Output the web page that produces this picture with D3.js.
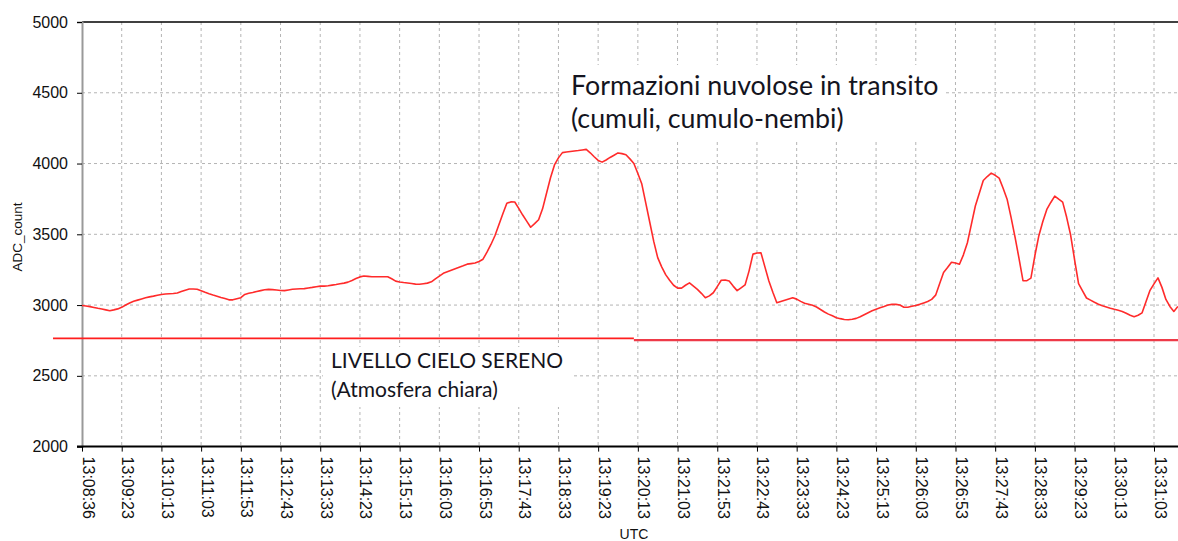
<!DOCTYPE html>
<html>
<head>
<meta charset="utf-8">
<script src="https://cdn.jsdelivr.net/npm/d3@7"></script>
<style>
  html, body { margin: 0; padding: 0; background: #fff; }
  svg { display: block; }
</style>
</head>
<body>
<svg id="chart" width="1178" height="541"></svg>
<script>
// Time labels shown under the x axis (one every 10 samples)
const tickLabels = [
  "13:08:36", "13:09:23", "13:10:13", "13:11:03", "13:11:53", "13:12:43", "13:13:33",
  "13:14:23", "13:15:13", "13:16:03", "13:16:53", "13:17:43", "13:18:33", "13:19:23",
  "13:20:13", "13:21:03", "13:21:53", "13:22:43", "13:23:33", "13:24:23", "13:25:13",
  "13:26:03", "13:26:53", "13:27:43", "13:28:33", "13:29:23", "13:30:13", "13:31:03"
];
const samplesPerLabel = 10;

// Sensor reading (ADC counts), one row per label interval
const adcCount = [
  2997, 2993, 2989, 2983, 2977, 2972, 2966, 2960, 2966, 2973,
  2984, 3000, 3015, 3027, 3035, 3043, 3051, 3058, 3063, 3069,
  3075, 3078, 3080, 3082, 3085, 3095, 3105, 3113, 3114, 3112,
  3101, 3090, 3080, 3071, 3063, 3054, 3046, 3037, 3037, 3045,
  3052, 3075, 3083, 3089, 3096, 3102, 3108, 3111, 3109, 3106,
  3103, 3102, 3107, 3112, 3114, 3115, 3116, 3121, 3125, 3130,
  3134, 3134, 3136, 3141, 3145, 3150, 3155, 3162, 3174, 3187,
  3199, 3205, 3203, 3200, 3200, 3200, 3200, 3200, 3186, 3169,
  3163, 3159, 3156, 3152, 3148, 3147, 3151, 3155, 3164, 3185,
  3204, 3224, 3235, 3246, 3257, 3268, 3278, 3289, 3293, 3297,
  3308, 3324, 3374, 3428, 3490, 3568, 3645, 3720, 3729, 3728,
  3683, 3636, 3593, 3550, 3575, 3603, 3680, 3790, 3900, 3990,
  4040, 4077, 4081, 4085, 4089, 4092, 4096, 4100, 4076, 4048,
  4022, 4010, 4025, 4043, 4059, 4075, 4070, 4062, 4033, 4000,
  3930, 3855, 3720, 3585, 3450, 3335, 3270, 3215, 3175, 3140,
  3120, 3120, 3140, 3157, 3134, 3111, 3083, 3052, 3065, 3087,
  3130, 3175, 3177, 3170, 3134, 3102, 3122, 3142, 3240, 3360,
  3368, 3370, 3270, 3170, 3090, 3016, 3025, 3034, 3043, 3052,
  3042, 3026, 3013, 3006, 2998, 2986, 2969, 2951, 2936, 2924,
  2911, 2904, 2898, 2896, 2900, 2906, 2918, 2932, 2946, 2960,
  2971, 2981, 2990, 3000, 3005, 3005, 3000, 2985, 2985, 2991,
  2997, 3005, 3015, 3025, 3040, 3070, 3150, 3230, 3265, 3303,
  3297, 3288, 3355, 3440, 3570, 3700, 3790, 3880, 3908, 3932,
  3917, 3897, 3825, 3748, 3620, 3480, 3330, 3172, 3173, 3190,
  3350, 3490, 3590, 3676, 3725, 3770, 3748, 3727, 3620, 3495,
  3320, 3152, 3100, 3050, 3035, 3020, 3006, 2995, 2987, 2978,
  2970, 2963, 2955, 2942, 2928, 2918, 2928, 2945, 3025, 3104,
  3150, 3192, 3125, 3040, 2990, 2955, 2990
];

// Clear-sky reference level, two segments (sample index ranges)
const clearSkyLevel = [2765, 2753];
const clearSkyStart = [-7.3, 139];
const clearSkyEnd = [139, 277];

const yTicks = [2000, 2500, 3000, 3500, 4000, 4500, 5000];

const cloudNote = ["Formazioni nuvolose in transito", "(cumuli, cumulo-nembi)"];
const clearNote = ["LIVELLO CIELO SERENO", "(Atmosfera chiara)"];

const svg = d3.select("#chart");
const W = 1178, H = 541;
const plot = { left: 82, top: 22, bottom: 446.6, right: W };
const lastTick = (tickLabels.length - 1) * samplesPerLabel;

const x = d3.scaleLinear().domain([0, lastTick]).range([plot.left, 1154]);
const y = d3.scaleLinear().domain([2000, 5000]).range([plot.bottom, plot.top]);

const gridColor = "#b4b4b4";
const tickIdx = d3.range(0, lastTick + 1, samplesPerLabel);

// Grid
const grid = svg.append("g");
grid.selectAll("line.v").data(tickIdx.slice(1)).join("line")
  .attr("x1", d => x(d)).attr("x2", d => x(d))
  .attr("y1", plot.top).attr("y2", plot.bottom)
  .attr("stroke", gridColor).attr("stroke-dasharray", "3,3");
grid.selectAll("line.h").data(yTicks.filter(v => v > 2000 && v < 5000)).join("line")
  .attr("x1", plot.left).attr("x2", plot.right)
  .attr("y1", d => y(d)).attr("y2", d => y(d))
  .attr("stroke", gridColor).attr("stroke-dasharray", "3,3");

// Top frame
svg.append("line")
  .attr("x1", plot.left).attr("x2", plot.right)
  .attr("y1", y(5000)).attr("y2", y(5000))
  .attr("stroke", "#000").attr("stroke-width", 1.5);

// Y axis
const yAxis = svg.append("g")
  .attr("transform", `translate(${plot.left},0)`)
  .call(d3.axisLeft(y).tickValues(yTicks).tickSize(5).tickPadding(9).tickFormat(d3.format("d")));
yAxis.select(".domain").attr("stroke", "#999").attr("stroke-width", 2);
yAxis.selectAll(".tick line").attr("stroke", "#000");
yAxis.selectAll(".tick text")
  .attr("font-family", "'Liberation Sans', Arial, sans-serif")
  .attr("font-size", 16).attr("fill", "#111");

// X axis
const xAxis = svg.append("g")
  .attr("transform", `translate(0,${plot.bottom})`)
  .call(d3.axisBottom(x).tickValues(tickIdx).tickSize(5)
    .tickFormat((d, i) => tickLabels[i]));
xAxis.select(".domain").attr("stroke", "#000").attr("stroke-width", 2)
  .attr("d", `M${plot.left - 5},0H${plot.right}`);
xAxis.selectAll(".tick line").attr("stroke", "#000");
xAxis.selectAll(".tick text")
  .attr("font-family", "'Liberation Sans', Arial, sans-serif")
  .attr("font-size", 16).attr("fill", "#111")
  .attr("transform", "rotate(90)")
  .attr("x", 10).attr("y", 0).attr("dy", "0")
  .style("text-anchor", "start");

// Axis titles
svg.append("text")
  .attr("transform", "translate(22,237) rotate(-90)")
  .attr("text-anchor", "middle")
  .attr("font-family", "'Liberation Sans', Arial, sans-serif")
  .attr("font-size", 13.5).attr("fill", "#111")
  .text("ADC_count");
svg.append("text")
  .attr("x", 634).attr("y", 539)
  .attr("text-anchor", "middle")
  .attr("font-family", "'Liberation Sans', Arial, sans-serif")
  .attr("font-size", 14).attr("fill", "#111")
  .text("UTC");

// Clear-sky level
svg.append("g").selectAll("line").data(clearSkyLevel).join("line")
  .attr("x1", (d, i) => x(clearSkyStart[i]))
  .attr("x2", (d, i) => x(clearSkyEnd[i]))
  .attr("y1", d => y(d)).attr("y2", d => y(d))
  .attr("stroke", (d, i) => i === 0 ? "#ff1e1e" : "#ee3a48")
  .attr("stroke-width", (d, i) => i === 0 ? 1.6 : 2.2);

// ADC series
const line = d3.line().x((d, i) => x(i)).y(d => y(d));
svg.append("path")
  .datum(adcCount)
  .attr("d", line)
  .attr("fill", "none")
  .attr("stroke", "#ff2b2b")
  .attr("stroke-width", 1.6)
  .attr("stroke-linejoin", "round");

// Annotations with white backing
function note(lines, bx, by, bw, bh, tx, ty, size, lead) {
  const g = svg.append("g");
  g.append("rect").attr("x", bx).attr("y", by).attr("width", bw).attr("height", bh)
    .attr("fill", "#fff");
  g.selectAll("text").data(lines).join("text")
    .attr("x", tx).attr("y", (d, i) => ty + i * lead)
    .attr("font-family", "Lato, 'Open Sans', sans-serif")
    .attr("font-size", size).attr("fill", "#141420")
    .text(d => d);
}
note(cloudNote, 560, 65, 385, 77, 571, 95, 26.8, 33);
note(clearNote, 323, 347, 250, 60, 331, 368, 21, 29);
</script>
</body>
</html>
